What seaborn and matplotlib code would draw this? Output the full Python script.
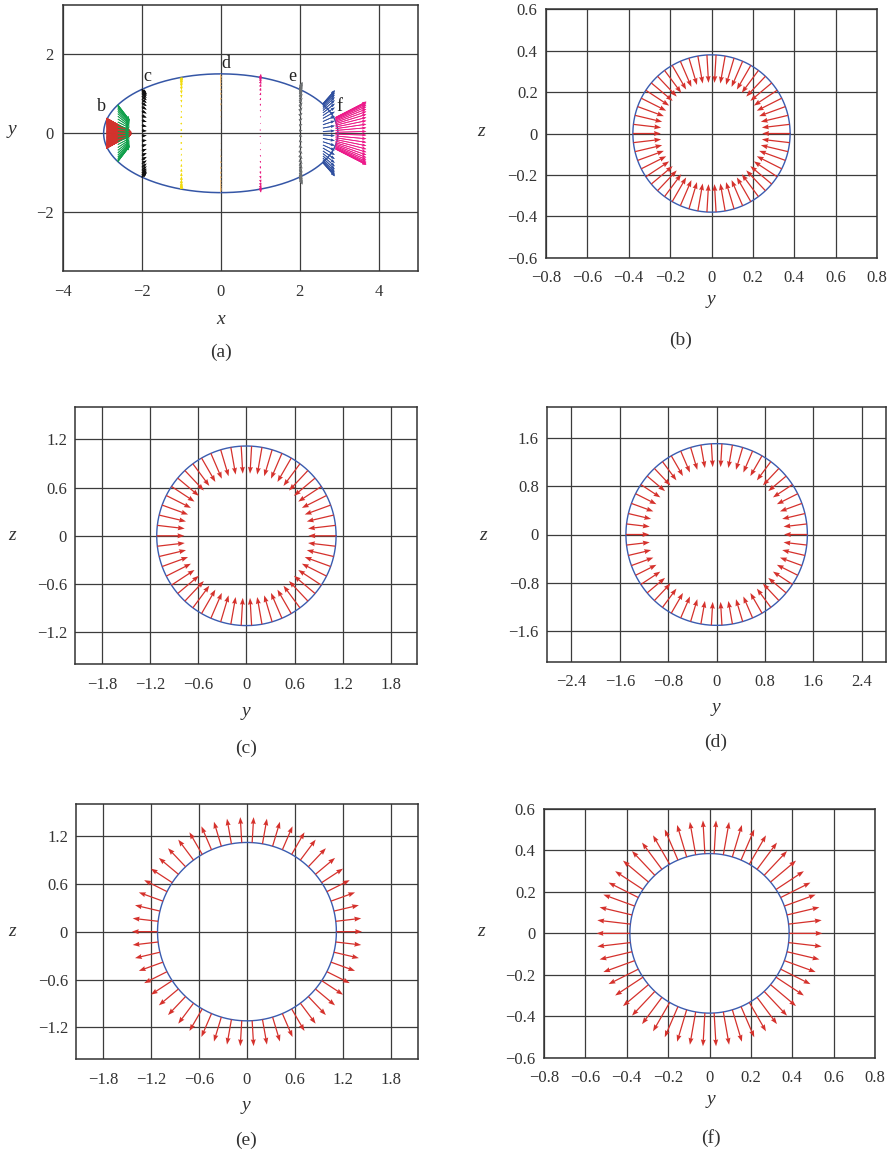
import numpy as np
import matplotlib
matplotlib.use("Agg")
import matplotlib.pyplot as plt
import seaborn as sns

# ---- data ----
# panel (a): ellipse and the projected arrow bundles of each section
ellipse_a = 2.97
ellipse_b = 1.5
sec_x0 = [-2.90, -2.61, -2.00, -1.00, 0.00, 1.00, 1.99, 2.59, 2.91]
sec_r0 = [0.38, 0.72, 1.12, 1.41, 1.50, 1.41, 1.12, 0.75, 0.40]
sec_x1 = [-2.27, -2.31, -1.88, -0.995, 0.00, 1.02, 2.07, 2.89, 3.69]
sec_r1 = [0.03, 0.33, 1.00, 1.30, 1.40, 1.50, 1.30, 1.09, 0.80]
sec_count = [108, 54, 54, 54, 54, 54, 54, 54, 54]
sec_colors = ['#d2322d', '#10a04b', '#111111', '#f2dc10', '#f8c27a',
              '#e8197f', '#6d7072', '#2f4f9f', '#ec1a8a']
sec_width = [1.0, 0.8, 0.9, 1.6, 0.4, 1.0, 0.9, 0.8, 0.8]
sec_letters = ['b', 'c', 'd', 'e', 'f']
letter_x = [-3.03, -1.85, 0.14, 1.82, 3.0]
letter_y = [0.67, 1.43, 1.76, 1.43, 0.67]

# panels (b)-(f): cross sections in the y-z plane
panel_names = ['b', 'c', 'd', 'e', 'f']
section_radius = [0.38, 1.118, 1.5, 1.118, 0.385]
arrow_length = [-0.135, -0.344, -0.386, 0.32, 0.161]   # negative = inward
n_arrows = 54
half_x = [0.8, 2.1333, 2.8, 2.1333, 0.8]
half_z = [0.6, 1.6, 2.1, 1.6, 0.6]
tick_step = [0.2, 0.6, 0.8, 0.6, 0.2]
tick_max_x = [0.8, 1.8, 2.4, 1.8, 0.8]
tick_max_z = [0.6, 1.2, 1.6, 1.2, 0.6]

# ---- style ----
sns.set_theme(style="white")
plt.rcParams['font.family'] = ['Liberation Serif', 'DejaVu Serif']

W, H = 893, 1158
fig = plt.figure(figsize=(W / 100, H / 100), dpi=100)


def box(l, r, t, b):
    return [l / W, 1 - b / H, (r - l) / W, (b - t) / H]


def fmt(v):
    if abs(v) < 1e-9:
        return '0'
    s = ('%.1f' % abs(v)) if abs(v - round(v)) > 1e-9 else '%d' % round(abs(v))
    return ('\u2212' + s) if v < 0 else s


def style_axes(ax, xt, yt, pad_x=9, pad_y=6):
    ax.set_xticks(xt)
    ax.set_yticks(yt)
    ax.set_xticklabels([fmt(v) for v in xt])
    ax.set_yticklabels([fmt(v) for v in yt])
    ax.tick_params(direction='in', length=4, width=1, colors='#222222',
                   labelsize=12, labelcolor='#333333')
    ax.tick_params(axis='x', pad=pad_x)
    ax.tick_params(axis='y', pad=pad_y)
    ax.grid(True, color='#3c3c3c', lw=0.9)
    ax.set_axisbelow(True)
    for s in ax.spines.values():
        s.set_color('#333333')
        s.set_linewidth(1.1)
        s.set_visible(True)


def ticks(step, vmax):
    n = int(round(vmax / step))
    return [round(k * step, 4) for k in range(-n, n + 1)]


# ---- panel (a) ----
ax = fig.add_axes(box(63, 418, 5, 271))
ax.set_xlim(-4, 5)
ax.set_ylim(-3.48, 3.24)
style_axes(ax, [-4, -2, 0, 2, 4], [-2, 0, 2], pad_x=9, pad_y=7)

t = np.linspace(0, 2 * np.pi, 400)
sns.lineplot(x=ellipse_a * np.cos(t), y=ellipse_b * np.sin(t), sort=False,
             estimator=None, color='#3556a6', lw=1.1, ax=ax)

for x0, r0, x1, r1, n, c, w in zip(sec_x0, sec_r0, sec_x1, sec_r1, sec_count,
                                   sec_colors, sec_width):
    th_a = np.linspace(0, 2 * np.pi, n, endpoint=False)
    yb = r0 * np.cos(th_a)
    ye = r1 * np.cos(th_a)
    ax.quiver(np.full_like(th_a, x0), yb, np.full_like(th_a, x1 - x0), ye - yb,
              color=c, angles='xy', scale_units='xy', scale=1, units='dots',
              width=w, headwidth=3.5, headlength=5, headaxislength=4.5,
              zorder=3)
for lt, lx, ly in zip(sec_letters, letter_x, letter_y):
    ax.text(lx, ly, lt, fontsize=13, color='#222222', ha='center', va='center',
            zorder=5)

fig.text(221 / W, 1 - 320 / H, 'x', fontsize=14, style='italic',
         ha='center', va='center', color='#333333')
fig.text(12 / W, 1 - 130 / H, 'y', fontsize=14, style='italic',
         ha='center', va='center', color='#333333')
fig.text(221 / W, 1 - 352 / H, '(a)', fontsize=14, ha='center', va='center',
         color='#333333')

# ---- panels (b)-(f) ----
boxes = [(546, 877, 9.3, 257.7), (75.3, 417.5, 407.3, 664.3),
         (547.3, 886, 407.3, 661.7), (76.3, 417.6, 804, 1059.3),
         (544, 875, 809, 1057.7)]
zlabel_pos = [(481, 132), (12, 535), (483, 535), (12, 932), (481, 932)]
ylabel_pos = [(711, 300), (246, 712), (716, 708), (246, 1105), (711, 1100)]
name_pos = [(681, 340), (246, 748), (716, 742), (246, 1140), (711, 1138)]

th = np.linspace(0, 2 * np.pi, n_arrows, endpoint=False)
for i, name in enumerate(panel_names):
    l, r, tp, bt = boxes[i]
    ax = fig.add_axes(box(l, r, tp, bt))
    ax.set_xlim(-half_x[i], half_x[i])
    ax.set_ylim(-half_z[i], half_z[i])
    style_axes(ax, ticks(tick_step[i], tick_max_x[i]),
               ticks(tick_step[i], tick_max_z[i]))
    rad = section_radius[i]
    sns.lineplot(x=rad * np.cos(t), y=rad * np.sin(t), sort=False,
                 estimator=None, color='#3a5cb0', lw=1.0, ax=ax, zorder=2)
    L = arrow_length[i]
    ax.quiver(rad * np.cos(th), rad * np.sin(th), L * np.cos(th), L * np.sin(th),
              color='#d5312c', angles='xy', scale_units='xy', scale=1,
              units='dots', width=1.25, headwidth=4.0, headlength=5.5,
              headaxislength=5.0, zorder=3)
    zx, zy = zlabel_pos[i]
    fig.text(zx / W, 1 - zy / H, 'z', fontsize=14, style='italic',
             ha='center', va='center', color='#333333')
    yx, yy = ylabel_pos[i]
    fig.text(yx / W, 1 - yy / H, 'y', fontsize=14, style='italic',
             ha='center', va='center', color='#333333')
    nx, ny = name_pos[i]
    fig.text(nx / W, 1 - ny / H, '(%s)' % name, fontsize=14, ha='center',
             va='center', color='#333333')

fig.savefig('out.png', dpi=100)
